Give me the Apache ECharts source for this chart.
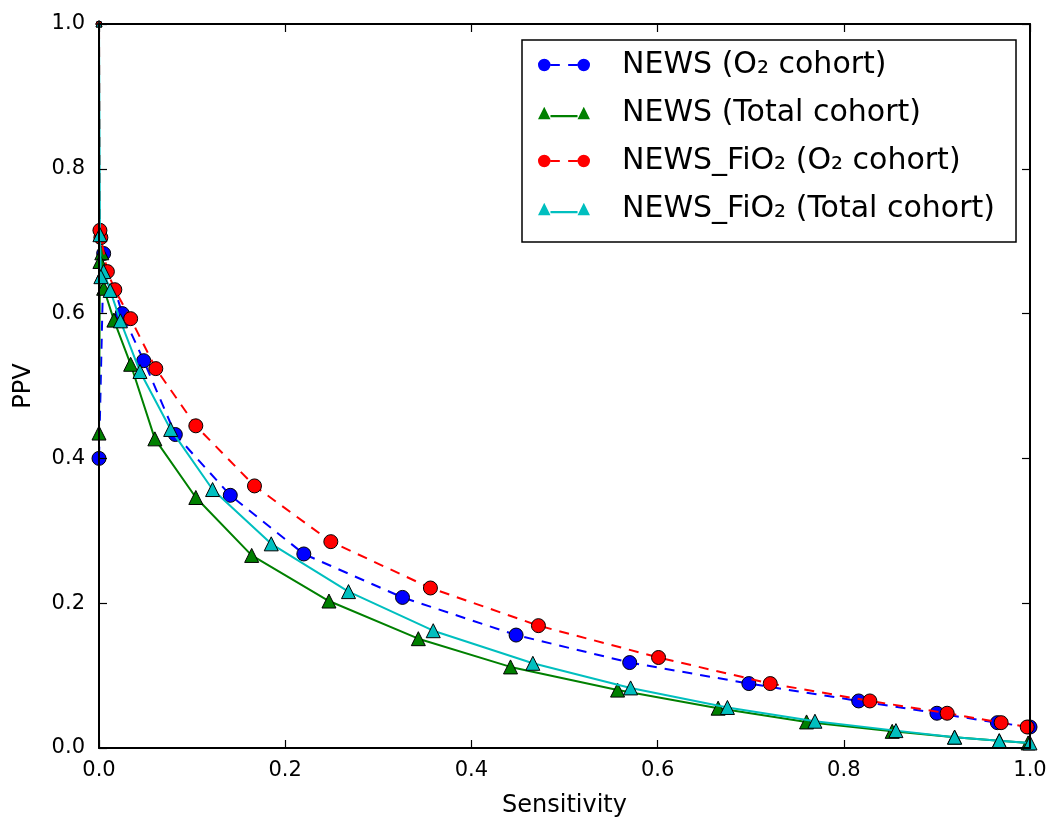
<!DOCTYPE html>
<html><head><meta charset="utf-8">
<script src="https://cdn.jsdelivr.net/npm/echarts@6/dist/echarts.min.js"></script>
<style>html,body{margin:0;padding:0;background:#fff}#c{width:1057px;height:826px}</style>
</head><body><div id="c"></div>
<script>
// [sensitivity, PPV]
const newsO2 = [[1.0,0.029],[0.965,0.035],[0.900,0.048],[0.816,0.065],[0.698,0.089],[0.570,0.118],[0.448,0.156],[0.326,0.208],[0.220,0.268],[0.141,0.349],[0.082,0.433],[0.048,0.535],[0.025,0.600],[0.005,0.683],[0,0.400],[0,1.0]];
const newsTotal = [[0.998,0.007],[0.967,0.010],[0.919,0.015],[0.852,0.023],[0.760,0.036],[0.665,0.055],[0.557,0.080],[0.442,0.112],[0.343,0.151],[0.247,0.203],[0.164,0.266],[0.104,0.346],[0.060,0.427],[0.034,0.530],[0.016,0.591],[0.005,0.635],[0.003,0.684],[0.001,0.672],[0,0.435],[0,1.0]];
const fio2O2 = [[0.997,0.029],[0.969,0.035],[0.911,0.048],[0.828,0.065],[0.721,0.089],[0.601,0.125],[0.472,0.169],[0.356,0.221],[0.249,0.285],[0.167,0.362],[0.104,0.445],[0.061,0.524],[0.034,0.593],[0.017,0.633],[0.009,0.658],[0.002,0.705],[0.001,0.715],[0,1.0]];
const fio2Total = [[1.0,0.007],[0.967,0.010],[0.919,0.015],[0.856,0.024],[0.769,0.037],[0.675,0.056],[0.571,0.083],[0.466,0.117],[0.359,0.162],[0.268,0.216],[0.185,0.282],[0.122,0.357],[0.077,0.440],[0.044,0.520],[0.023,0.590],[0.012,0.632],[0.005,0.658],[0.002,0.651],[0.001,0.709],[0,1.0]];
const seriesNames = ['NEWS (O\u2082 cohort)','NEWS (Total cohort)','NEWS_FiO\u2082 (O\u2082 cohort)','NEWS_FiO\u2082 (Total cohort)'];
const xName = 'Sensitivity';
const yName = 'PPV';

const FONT = 'DejaVu Sans';
const circDash = 'path://M1,7A6,6,0,1,0,13,7A6,6,0,1,0,1,7Z M39,7A6,6,0,1,0,51,7A6,6,0,1,0,39,7Z M13,6H22V8H13Z M30,6H39V8H30Z';
const triSolid = 'path://M7,1L13,13L1,13Z M45,1L51,13L39,13Z M13,9H39V11H13Z';

// the corner point (0,1) sits on the axes corner and is mostly clipped in the original
const symSize = v => (v[0] === 0 && v[1] === 1) ? 6 : 14;

function mkSeries(name, data, color, symbol, dashed, z){
  return {
    name, type:'line', data, symbol, symbolSize: symSize, z,
    clip: true, animation:false,
    lineStyle:{color, width:2, type: dashed ? [10,8] : 'solid'},
    itemStyle:{color, borderColor:'#000', borderWidth:1},
    emphasis:{disabled:true}
  };
}
const axCommon = {
  type:'value', min:0, max:1, interval:0.2, z:8,
  axisLine:{show:true, onZero:false, lineStyle:{color:'#000', width:2}},
  axisTick:{show:true, inside:true, length:8, lineStyle:{color:'#000', width:1.2}},
  splitLine:{show:false}
};
const lbl = {fontFamily:FONT, fontSize:21, color:'#000', formatter: v => v.toFixed(1)};

const chart = echarts.init(document.getElementById('c'), null, {renderer:'canvas'});
chart.setOption({
  backgroundColor:'#fff',
  animation:false,
  grid:{left:99, right:27, top:24, bottom:78},
  xAxis:[
    Object.assign({}, axCommon, {position:'bottom', name:xName, nameLocation:'middle', nameGap:46,
      nameTextStyle:{fontFamily:FONT, fontSize:24, color:'#000'},
      axisLabel:Object.assign({margin:12}, lbl)}),
    Object.assign({}, axCommon, {position:'top', axisLabel:{show:false}})
  ],
  yAxis:[
    Object.assign({}, axCommon, {position:'left', name:yName, nameLocation:'middle', nameGap:63,
      nameTextStyle:{fontFamily:FONT, fontSize:24, color:'#000'},
      axisLabel:Object.assign({margin:14}, lbl)}),
    Object.assign({}, axCommon, {position:'right', axisLabel:{show:false}})
  ],
  legend:{
    left:522, top:40, orient:'vertical', z:10,
    itemWidth:52, itemHeight:14, itemGap:14,
    padding:[8,21,16,16],
    backgroundColor:'#fff', borderColor:'#000', borderWidth:1.5,
    textStyle:{fontFamily:FONT, fontSize:30, color:'#000', lineHeight:34, padding:[0,0,0,27]},
    data:[
      {name:seriesNames[0], icon:circDash, itemStyle:{color:'#0000ff', borderWidth:0}},
      {name:seriesNames[1], icon:triSolid, itemStyle:{color:'#008000', borderWidth:0}},
      {name:seriesNames[2], icon:circDash, itemStyle:{color:'#ff0000', borderWidth:0}},
      {name:seriesNames[3], icon:triSolid, itemStyle:{color:'#00bfbf', borderWidth:0}}
    ]
  },
  series:[
    mkSeries(seriesNames[0], newsO2, '#0000ff', 'circle', true, 2),
    mkSeries(seriesNames[1], newsTotal, '#008000', 'triangle', false, 3),
    mkSeries(seriesNames[2], fio2O2, '#ff0000', 'circle', true, 4),
    mkSeries(seriesNames[3], fio2Total, '#00bfbf', 'triangle', false, 5)
  ]
});
</script></body></html>
